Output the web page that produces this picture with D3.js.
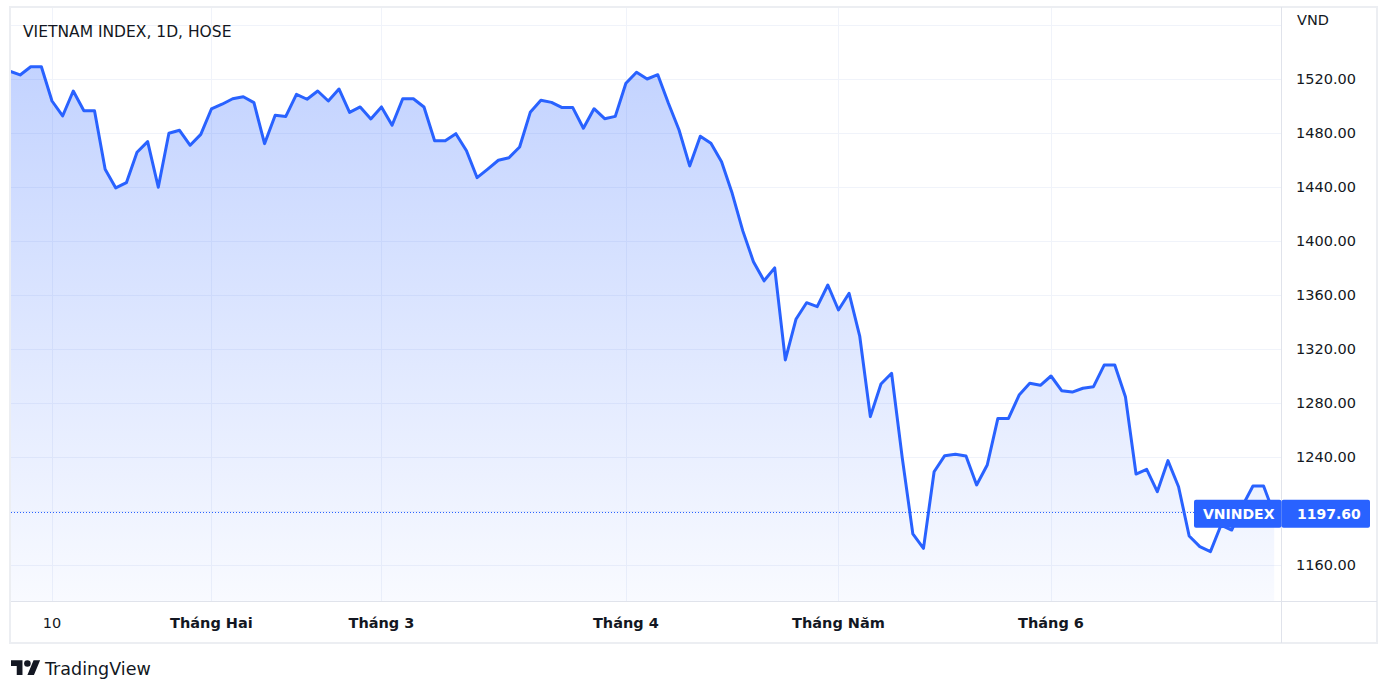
<!DOCTYPE html>
<html>
<head>
<meta charset="utf-8">
<script src="https://cdn.jsdelivr.net/npm/d3@7"></script>
<style>
html,body{margin:0;padding:0;background:#fff;}
svg{display:block;}
text{font-family:"DejaVu Sans",sans-serif;fill:#131722;}
</style>
</head>
<body>
<svg id="chart" width="1392" height="696"></svg>
<script>
// ---- data (VN-Index, daily close) ----
const dates = [
"2022-01-04","2022-01-05","2022-01-06","2022-01-07","2022-01-10","2022-01-11","2022-01-12","2022-01-13","2022-01-14",
"2022-01-17","2022-01-18","2022-01-19","2022-01-20","2022-01-21","2022-01-24","2022-01-25","2022-01-26","2022-01-27","2022-01-28",
"2022-02-07","2022-02-08","2022-02-09","2022-02-10","2022-02-11","2022-02-14","2022-02-15","2022-02-16","2022-02-17","2022-02-18",
"2022-02-21","2022-02-22","2022-02-23","2022-02-24","2022-02-25","2022-02-28",
"2022-03-01","2022-03-02","2022-03-03","2022-03-04","2022-03-07","2022-03-08","2022-03-09","2022-03-10","2022-03-11",
"2022-03-14","2022-03-15","2022-03-16","2022-03-17","2022-03-18","2022-03-21","2022-03-22","2022-03-23","2022-03-24","2022-03-25",
"2022-03-28","2022-03-29","2022-03-30","2022-03-31",
"2022-04-01","2022-04-04","2022-04-05","2022-04-06","2022-04-07","2022-04-08","2022-04-12","2022-04-13","2022-04-14","2022-04-15",
"2022-04-18","2022-04-19","2022-04-20","2022-04-21","2022-04-22","2022-04-25","2022-04-26","2022-04-27","2022-04-28","2022-04-29",
"2022-05-04","2022-05-05","2022-05-06","2022-05-09","2022-05-10","2022-05-11","2022-05-12","2022-05-13","2022-05-16","2022-05-17",
"2022-05-18","2022-05-19","2022-05-20","2022-05-23","2022-05-24","2022-05-25","2022-05-26","2022-05-27","2022-05-30","2022-05-31",
"2022-06-01","2022-06-02","2022-06-03","2022-06-06","2022-06-07","2022-06-08","2022-06-09","2022-06-10","2022-06-13","2022-06-14",
"2022-06-15","2022-06-16","2022-06-17","2022-06-20","2022-06-21","2022-06-22","2022-06-23","2022-06-24","2022-06-27","2022-06-28",
"2022-06-29","2022-06-30"
];
const closes = [
1525.9,1523.0,1529.1,1529.1,1503.7,1492.6,1511.1,1496.5,1496.5,
1453.1,1439.3,1443.2,1465.7,1473.6,1439.8,1479.8,1482.0,1470.9,1479.0,
1497.8,1501.3,1505.4,1506.9,1502.5,1472.1,1493.1,1492.3,1508.6,1505.0,
1511.1,1503.7,1512.6,1495.3,1499.3,1490.4,
1499.3,1485.7,1505.4,1505.4,1499.3,1474.3,1474.3,1479.5,1466.9,
1446.9,1453.3,1459.8,1461.7,1469.6,1495.3,1504.2,1502.7,1498.8,1498.8,
1483.5,1498.0,1490.6,1492.3,
1516.8,1525.0,1520.0,1523.2,1502.0,1482.2,1455.6,1477.6,1472.4,1458.7,
1435.3,1407.5,1384.7,1370.5,1380.1,1311.9,1342.0,1354.3,1351.4,1367.4,
1348.9,1361.3,1329.6,1269.9,1294.1,1302.0,1239.5,1183.0,1172.3,1229.1,
1241.0,1242.0,1240.7,1219.3,1234.1,1268.6,1268.6,1285.9,1294.6,1293.1,
1300.0,1289.1,1288.1,1290.9,1292.1,1308.1,1308.1,1284.7,1227.4,1230.9,
1214.3,1237.3,1218.0,1181.5,1173.6,1169.9,1189.6,1185.9,1203.5,1218.5,
1218.5,1197.6
];
const tickDates  = ["2022-01-10","2022-02-07","2022-03-01","2022-04-01","2022-05-04","2022-06-01"];
const tickLabels = ["10","Tháng Hai","Tháng 3","Tháng 4","Tháng Năm","Tháng 6"];
const tickIsMonth = [false,true,true,true,true,true];
const priceTicks = [1160,1200,1240,1280,1320,1360,1400,1440,1480,1520,1560];
const hiddenPriceLabels = [1200,1560];
const title = "VIETNAM INDEX, 1D, HOSE";
const currency = "VND";
const seriesName = "VNINDEX";
const lastPrice = 1197.60;

// ---- layout ----
const svg = d3.select("#chart");
const plot = {left:11, right:1281.5, top:8, bottom:601.5};
const frame = {left:10, right:1377, top:7, bottom:643};
const blue = "#2962ff";

const x = d3.scalePoint().domain(dates).range([9.49, 1274.2]).padding(0);
const y = d3.scaleLinear().domain([1160, 1520]).range([565, 79]);

const data = dates.map((d,i)=>({d, v:closes[i]}));

// frame
svg.append("rect").attr("x",frame.left).attr("y",frame.top)
  .attr("width",frame.right-frame.left).attr("height",frame.bottom-frame.top)
  .attr("fill","#fff").attr("stroke","#eceef2").attr("stroke-width",2);

const defs = svg.append("defs");
defs.append("clipPath").attr("id","plotClip").append("rect")
  .attr("x",plot.left).attr("y",plot.top)
  .attr("width",plot.right-plot.left).attr("height",plot.bottom-plot.top);
const grad = defs.append("linearGradient").attr("id","areaGrad")
  .attr("gradientUnits","userSpaceOnUse")
  .attr("x1",0).attr("x2",0).attr("y1",y(d3.max(closes))).attr("y2",plot.bottom);
grad.append("stop").attr("offset","0").attr("stop-color",blue).attr("stop-opacity",0.28);
grad.append("stop").attr("offset","1").attr("stop-color",blue).attr("stop-opacity",0.03);

// grid
const grid = svg.append("g");
grid.selectAll("line.h").data(priceTicks).join("line")
  .attr("x1",plot.left).attr("x2",plot.right)
  .attr("y1",d=>Math.round(y(d))+0.5).attr("y2",d=>Math.round(y(d))+0.5)
  .attr("stroke","#f0f3fa").attr("stroke-width",1);
grid.selectAll("line.v").data(tickDates).join("line")
  .attr("x1",d=>Math.round(x(d))+0.5).attr("x2",d=>Math.round(x(d))+0.5)
  .attr("y1",plot.top).attr("y2",plot.bottom)
  .attr("stroke","#f0f3fa").attr("stroke-width",1);

// series
const g = svg.append("g").attr("clip-path","url(#plotClip)");
g.append("path").datum(data)
  .attr("fill","url(#areaGrad)")
  .attr("d", d3.area().x(p=>x(p.d)).y0(plot.bottom).y1(p=>y(p.v)));
g.append("path").datum(data)
  .attr("fill","none").attr("stroke",blue).attr("stroke-width",3)
  .attr("stroke-linejoin","round").attr("stroke-linecap","round")
  .attr("d", d3.line().x(p=>x(p.d)).y(p=>y(p.v)));

// last price line
const yl = Math.round(y(lastPrice))-1.5;
svg.append("line").attr("x1",plot.left).attr("x2",plot.right)
  .attr("y1",yl).attr("y2",yl).attr("stroke",blue).attr("stroke-width",1)
  .attr("stroke-dasharray","1,2");

// separators
svg.append("line").attr("x1",plot.right).attr("x2",plot.right)
  .attr("y1",frame.top).attr("y2",frame.bottom).attr("stroke","#e0e3eb").attr("stroke-width",1);
svg.append("line").attr("x1",plot.left).attr("x2",frame.right)
  .attr("y1",plot.bottom).attr("y2",plot.bottom).attr("stroke","#e0e3eb").attr("stroke-width",1);

// price axis labels
svg.append("g").selectAll("text").data(priceTicks.filter(t=>!hiddenPriceLabels.includes(t))).join("text")
  .attr("x",1296).attr("y",d=>y(d)).attr("dy","0.36em")
  .attr("font-size","14.5px").text(d=>d3.format(".2f")(d));
svg.append("text").attr("x",1297).attr("y",20).attr("dy","0.36em")
  .attr("font-size","14.5px").text(currency);

// time axis labels
svg.append("g").selectAll("text").data(tickDates).join("text")
  .attr("x",d=>x(d)).attr("y",623).attr("dy","0.36em").attr("text-anchor","middle")
  .attr("font-size","14.5px")
  .attr("font-weight",(d,i)=>tickIsMonth[i]?"bold":"normal")
  .text((d,i)=>tickLabels[i]);

// title
svg.append("text").attr("x",23).attr("y",31).attr("dy","0.36em")
  .attr("font-size","15.5px").text(title);

// last price label
const ly = y(lastPrice);
svg.append("rect").attr("x",1194).attr("y",ly-14.5).attr("width",plot.right-1194).attr("height",28)
  .attr("rx",2).attr("fill",blue);
svg.append("rect").attr("x",plot.right).attr("y",ly-14.5).attr("width",1370-plot.right).attr("height",28)
  .attr("rx",2).attr("fill",blue);
svg.append("text").attr("x",1203).attr("y",ly-0.5).attr("dy","0.36em")
  .attr("font-size","14px").attr("font-weight","bold").style("fill","#fff").text(seriesName);
svg.append("text").attr("x",1297).attr("y",ly-0.5).attr("dy","0.36em")
  .attr("font-size","14px").attr("font-weight","bold").style("fill","#fff").text(d3.format(".2f")(lastPrice));

// TradingView logo
const logo = svg.append("g").attr("transform","translate(11,657) scale(0.82)");
logo.append("path").attr("d","M14 22H7V11H0V4h14v18zM28 22h-8l7.5-18h8L28 22z").attr("fill","#131722");
logo.append("circle").attr("cx",20).attr("cy",8).attr("r",4).attr("fill","#131722");
svg.append("text").attr("x",45).attr("y",669).attr("dy","0.36em")
  .attr("font-size","17.5px").text("TradingView");
</script>
</body>
</html>
